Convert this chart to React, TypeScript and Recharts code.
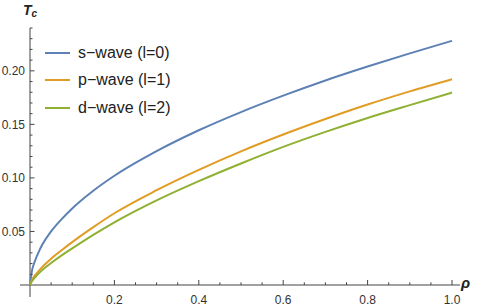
import React from "react";
import { LineChart, Line, XAxis, YAxis, ReferenceLine } from "recharts";

const RHO = [0, 0.005, 0.01, 0.025, 0.05, 0.075, 0.1, 0.15, 0.2, 0.3, 0.4, 0.5, 0.6, 0.7, 0.8, 0.9, 1.0];
const S_WAVE = [0, 0.014, 0.0205, 0.0345, 0.05, 0.0615, 0.0715, 0.088, 0.102, 0.125, 0.1445, 0.1615, 0.1768, 0.191, 0.204, 0.2163, 0.228];
const P_WAVE = [0, 0.005, 0.008, 0.015, 0.0245, 0.0325, 0.04, 0.054, 0.067, 0.0885, 0.1075, 0.1248, 0.1405, 0.155, 0.1685, 0.1808, 0.1922];
const D_WAVE = [0, 0.0038, 0.0062, 0.0125, 0.0205, 0.0277, 0.0342, 0.0468, 0.0585, 0.079, 0.097, 0.1135, 0.129, 0.143, 0.156, 0.168, 0.1797];

const SERIES_NAMES = ["s\u2212wave (l=0)", "p\u2212wave (l=1)", "d\u2212wave (l=2)"];
const SERIES_KEYS = ["s", "p", "d"];
const COLORS = ["#5E81B5", "#E19C24", "#8FB032"];

const X_TICKS = [0.05, 0.1, 0.15, 0.2, 0.25, 0.3, 0.35, 0.4, 0.45, 0.5, 0.55, 0.6, 0.65, 0.7, 0.75, 0.8, 0.85, 0.9, 0.95, 1.0];
const X_MAJOR = [0.2, 0.4, 0.6, 0.8, 1.0];
const Y_TICKS = [0.01, 0.02, 0.03, 0.04, 0.05, 0.06, 0.07, 0.08, 0.09, 0.1, 0.11, 0.12, 0.13, 0.14, 0.15, 0.16, 0.17, 0.18, 0.19, 0.2, 0.21, 0.22, 0.23, 0.24];
const Y_MAJOR = [0.05, 0.1, 0.15, 0.2];

const data = RHO.map((r, i) => ({ rho: r, s: S_WAVE[i], p: P_WAVE[i], d: D_WAVE[i] }));

const AXIS = "#444";
const FONT = '"Liberation Sans", Arial, Helvetica, sans-serif';

const isIn = (arr: number[], v: number) => arr.some((a) => Math.abs(a - v) < 1e-6);

const XTick = (props: any) => {
  const { x, y, payload } = props;
  const v = payload.value as number;
  const major = isIn(X_MAJOR, v);
  return (
    <g>
      <line x1={x} x2={x} y1={y} y2={y - (major ? 5 : 2.7)} stroke={AXIS} strokeWidth={1} />
      {major && (
        <text x={x} y={y + 19} textAnchor="middle" fontSize={12} fill="#333" fontFamily={FONT}>
          {v.toFixed(1)}
        </text>
      )}
    </g>
  );
};

const YTick = (props: any) => {
  const { x, y, payload } = props;
  const v = payload.value as number;
  const major = isIn(Y_MAJOR, v);
  return (
    <g>
      <line x1={x} x2={x + (major ? 4.5 : 2.5)} y1={y} y2={y} stroke={AXIS} strokeWidth={1} />
      {major && (
        <text x={x - 5} y={y + 4.3} textAnchor="end" fontSize={12} fill="#333" fontFamily={FONT}>
          {v.toFixed(2)}
        </text>
      )}
    </g>
  );
};

export default function App() {
  return (
    <div style={{ position: "absolute", left: 0, top: 0, width: 480, height: 307, background: "#fff", fontFamily: FONT }}>
      <LineChart width={480} height={307} data={data} margin={{ top: 28, right: 28, bottom: 0, left: 0 }}>
        <XAxis
          dataKey="rho"
          type="number"
          domain={[0, 1]}
          ticks={X_TICKS}
          interval={0}
          height={22}
          axisLine={false}
          tickSize={0}
          tickMargin={0}
          tick={<XTick />}
        />
        <YAxis
          type="number"
          domain={[0, 0.24]}
          ticks={Y_TICKS}
          interval={0}
          width={30}
          axisLine={false}
          tickSize={0}
          tickMargin={0}
          tick={<YTick />}
        />
        <ReferenceLine
          segment={[{ x: -0.0237, y: 0 }, { x: 1.019, y: 0 }]}
          stroke={AXIS}
          strokeWidth={1}
          ifOverflow="visible"
        />
        <ReferenceLine
          segment={[{ x: 0, y: -0.0112 }, { x: 0, y: 0.24 }]}
          stroke={AXIS}
          strokeWidth={1}
          ifOverflow="visible"
        />
        {SERIES_KEYS.map((k, i) => (
          <Line
            key={k}
            type="monotone"
            dataKey={k}
            stroke={COLORS[i]}
            strokeWidth={2}
            dot={false}
            isAnimationActive={false}
          />
        ))}
      </LineChart>
      <div style={{ position: "absolute", left: 23, top: 1, fontSize: 14, fontWeight: "bold", fontStyle: "italic", color: "#222", lineHeight: "18px" }}>
        T<sub style={{ fontSize: 10, verticalAlign: "baseline", position: "relative", top: 2 }}>c</sub>
      </div>
      <div style={{ position: "absolute", left: 461, top: 274, fontSize: 15, fontWeight: "bold", fontStyle: "italic", color: "#222", lineHeight: "18px" }}>
        ρ
      </div>
      {SERIES_NAMES.map((name, i) => (
        <div key={name} style={{ position: "absolute", left: 45, top: 42 + i * 27.3, height: 22, display: "flex", alignItems: "center" }}>
          <div style={{ width: 25, height: 2, background: COLORS[i] }} />
          <span style={{ marginLeft: 8, fontSize: 16, color: "#222", whiteSpace: "nowrap" }}>{name}</span>
        </div>
      ))}
    </div>
  );
}
